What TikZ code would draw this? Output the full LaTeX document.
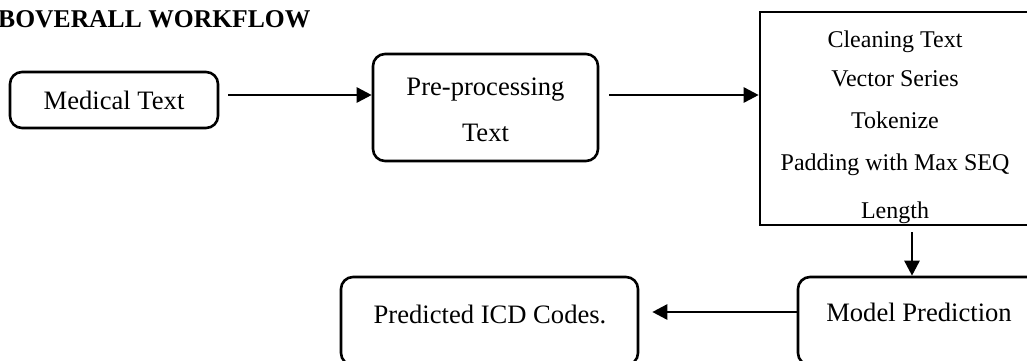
\documentclass[tikz,border=0pt]{standalone}
\usepackage{fontspec}
\setmainfont{Liberation Serif}
\usetikzlibrary{arrows.meta}
\begin{document}
\begin{tikzpicture}[x=1pt,y=-1pt,
  rbox/.style={draw,line width=2.6pt,rounded corners=12pt,inner sep=0pt},
  sbox/.style={draw,line width=2.6pt,inner sep=0pt},
  txt/.style={font=\fontsize{26.6}{32}\selectfont,inner sep=0pt,anchor=base},
  stxt/.style={font=\fontsize{24}{29}\selectfont,inner sep=0pt,anchor=base},
  arr/.style={line width=2.6pt,-{Triangle[length=15pt,width=15pt]}}]
\useasboundingbox (0,0) rectangle (1027,360);
\clip (0,0) rectangle (1027,360);
% title
\node[font=\fontsize{25.6}{30}\selectfont\bfseries,inner sep=0pt,anchor=base west] (title) at (-2,27) {BOVERALL WORKFLOW};
% boxes
\node[rbox,minimum width=208pt,minimum height=56pt,font=\fontsize{26.6}{32}\selectfont] (med) at (114,100) {Medical Text};
\node[rbox,minimum width=225pt,minimum height=107pt] (pre) at (485.5,107.5) {};
\node[txt] (pre1) at (485.5,95) {Pre-processing};
\node[txt] (pre2) at (485.5,141) {Text};
\node[sbox,minimum width=285pt,minimum height=213pt] (steps) at (902.5,118.5) {};
\node[stxt] (s1) at (895,47) {Cleaning Text};
\node[stxt] (s2) at (895,86) {Vector Series};
\node[stxt] (s3) at (895,128) {Tokenize};
\node[stxt] (s4) at (895,170) {Padding with Max SEQ};
\node[stxt] (s5) at (895,218) {Length};
\node[rbox,minimum width=250pt,minimum height=88pt] (model) at (923,321) {};
\node[txt] (mtxt) at (919,321) {Model Prediction};
\node[rbox,minimum width=297pt,minimum height=88pt] (pred) at (489.5,321) {};
\node[txt] (ptxt) at (490,323) {Predicted ICD Codes.};
% connectors
\coordinate (a1s) at ([xshift=9pt]med.east |- 0,95);
\coordinate (a2s) at ([xshift=10pt]pre.east |- 0,95);
\coordinate (a3s) at (912,232);
\coordinate (a4e) at ([xshift=13pt]pred.east |- 0,312);
\draw[arr] (a1s) -- (a1s -| pre.west);
\draw[arr] (a2s) -- (a2s -| steps.west);
\draw[arr] (a3s) -- (a3s |- model.north);
\draw[arr] (model.west |- a4e) -- (a4e);
\end{tikzpicture}
\end{document}
